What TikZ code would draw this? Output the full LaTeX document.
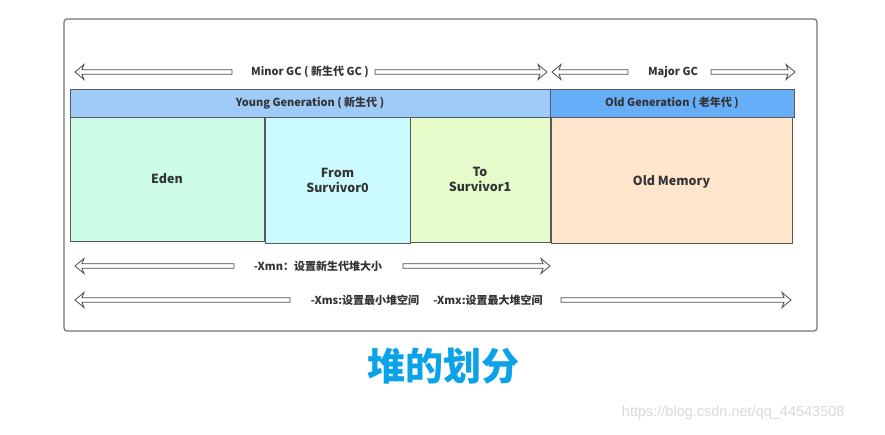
\documentclass[tikz,border=0pt]{standalone}
\usepackage{fontspec}
\setmainfont{Noto Sans CJK SC}
\newfontfamily\markfont{Liberation Sans}
\usetikzlibrary{calc}

\definecolor{youngblue}{HTML}{9FCBF9}
\definecolor{oldblue}{HTML}{66AEF8}
\definecolor{edengreen}{HTML}{CCFCE6}
\definecolor{fromcyan}{HTML}{CCFBFF}
\definecolor{tolime}{HTML}{E6FCCB}
\definecolor{oldpeach}{HTML}{FFE5CC}
\definecolor{titleblue}{HTML}{0AA2E8}

\tikzset{
  region/.style={draw=black!65, line width=0.9pt},
  lbl/.style={font=\fontsize{11}{13}\selectfont\bfseries, text=black!80, inner sep=1pt},
  boxlbl/.style={font=\fontsize{12.5}{15}\selectfont\bfseries, text=black!80, align=center},
  hollow/.style={draw=black!70, fill=white, line width=0.8pt, line join=miter}
}

% hollow block arrow from tail #1 to tip #2 (horizontal)
\newcommand\gcarrow[2]{%
  \draw[hollow] let \p1=(#1), \p2=(#2), \n1={sign(\x2-\x1)} in
    (\x1,\y1+2.3) -- (\x2-\n1*7,\y1+2.3) -- (\x2-\n1*9,\y1+7.5) -- (\x2,\y1)
    -- (\x2-\n1*9,\y1-7.5) -- (\x2-\n1*7,\y1-2.3) -- (\x1,\y1-2.3) -- cycle;}

\begin{document}
\begin{tikzpicture}[x=1pt, y=-1pt]
\useasboundingbox (0,0) rectangle (885,435);

% frame
\draw[draw=black!55, line width=1.2pt, rounded corners=3pt] (64,19) rectangle (817,331);

% GC labels and arrows
\node[lbl] (minor) at (310,72) {Minor GC ( 新生代 GC )};
\node[lbl] (major) at (673,72) {Major GC};
\coordinate (minorA) at (232,72);  \coordinate (minorL) at (75,72);
\coordinate (minorB) at (375,72);  \coordinate (minorR) at (547,72);
\coordinate (majorA) at (628,72);  \coordinate (majorL) at (552,72);
\coordinate (majorB) at (711,72);  \coordinate (majorR) at (795,72);
\gcarrow{minorA}{minorL}
\gcarrow{minorB}{minorR}
\gcarrow{majorA}{majorL}
\gcarrow{majorB}{majorR}

% generation headers
\draw[region, fill=youngblue] (70,89) rectangle (550,117) node[pos=.5, lbl] (young) {Young Generation ( 新生代 )};
\draw[region, fill=oldblue] (550,89) rectangle (794,117) node[pos=.5, lbl] (old) {Old Generation ( 老年代 )};

% memory areas
\draw[region, fill=edengreen] (70,117) rectangle (264,241) node[pos=.5, boxlbl] (eden) {Eden};
\draw[region, fill=fromcyan] (265,117) rectangle (410,243) node[pos=.5, boxlbl] (from) {From\\Survivor0};
\draw[region, fill=tolime] (410,117) rectangle (550,242) node[pos=.5, boxlbl] (to) {To\\Survivor1};
\draw[region, fill=oldpeach] (551,117) rectangle (792,243) node[pos=.5, boxlbl, yshift=-2pt] (oldmem) {Old Memory};

% heap options
\node[lbl] (xmn) at (318,266) {-Xmn：设置新生代堆大小};
\coordinate (xmnA) at (234,266);  \coordinate (xmnL) at (75,266);
\coordinate (xmnB) at (403,266);  \coordinate (xmnR) at (550,266);
\gcarrow{xmnA}{xmnL}
\gcarrow{xmnB}{xmnR}

\node[lbl] (xms) at (365,300) {-Xms:设置最小堆空间};
\node[lbl] (xmx) at (488,300) {-Xmx:设置最大堆空间};
\coordinate (xmsA) at (290,300);  \coordinate (xmsL) at (75,300);
\coordinate (xmxA) at (561,300);  \coordinate (xmxR) at (791,300);
\gcarrow{xmsA}{xmsL}
\gcarrow{xmxA}{xmxR}

% title
\node[font=\fontsize{38}{40}\selectfont\bfseries, text=titleblue] (title) at (443,366) {堆的划分};
\node[font=\markfont\fontsize{14.5}{16}\selectfont, text=black!15, anchor=east] (mark) at (848,413) {https://blog.csdn.net/qq\_44543508};
\end{tikzpicture}
\end{document}
